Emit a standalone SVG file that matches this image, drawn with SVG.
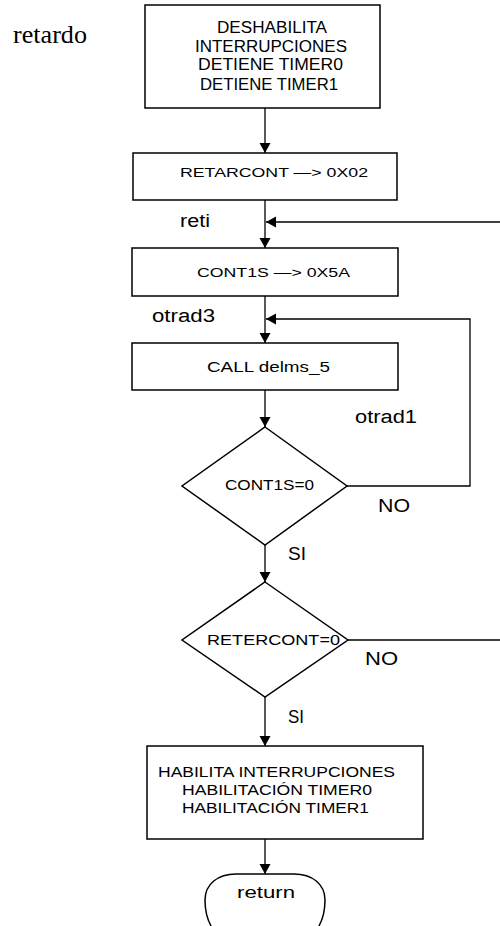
<svg xmlns="http://www.w3.org/2000/svg" width="500" height="926" viewBox="0 0 500 926">
  <style>
    .shape { fill: #ffffff; stroke: #000000; stroke-width: 1.5; }
    .wire { fill: none; stroke: #000000; stroke-width: 1.3; }
    .t { font-family: "Liberation Sans", Arial, sans-serif; fill: #000000; }
    .serif { font-family: "Liberation Serif", "Times New Roman", serif; fill: #000000; }
  </style>
  <defs>
    <marker id="arrow" viewBox="0 0 10 14" markerWidth="10" markerHeight="14" refX="10" refY="7" orient="auto" markerUnits="userSpaceOnUse">
      <path d="M0,1.5 L10,7 L0,12.5 Z" fill="#000000"/>
    </marker>
  </defs>

  <rect width="500" height="926" fill="#ffffff"/>

  <!-- routine name -->
  <text class="serif" x="13" y="43" font-size="25" textLength="74" lengthAdjust="spacingAndGlyphs">retardo</text>

  <!-- connectors -->
  <g id="connectors">
    <line class="wire" x1="265" y1="108" x2="265" y2="153" marker-end="url(#arrow)"/>
    <line class="wire" x1="265" y1="200" x2="265" y2="248" marker-end="url(#arrow)"/>
    <line class="wire" x1="500" y1="222" x2="266" y2="222" marker-end="url(#arrow)"/>
    <line class="wire" x1="265" y1="296" x2="265" y2="343" marker-end="url(#arrow)"/>
    <polyline class="wire" points="347,486 470,486 470,319 266,319" marker-end="url(#arrow)"/>
    <line class="wire" x1="265" y1="390" x2="265" y2="427" marker-end="url(#arrow)"/>
    <line class="wire" x1="265" y1="545" x2="265" y2="582" marker-end="url(#arrow)"/>
    <line class="wire" x1="348" y1="640" x2="500" y2="640"/>
    <line class="wire" x1="265" y1="697" x2="265" y2="746" marker-end="url(#arrow)"/>
    <line class="wire" x1="265" y1="839" x2="265" y2="874" marker-end="url(#arrow)"/>

    <text class="t" x="180" y="227" font-size="18" textLength="30" lengthAdjust="spacingAndGlyphs">reti</text>
    <text class="t" x="152" y="322" font-size="18" textLength="63" lengthAdjust="spacingAndGlyphs">otrad3</text>
    <text class="t" x="355" y="423" font-size="18" textLength="62" lengthAdjust="spacingAndGlyphs">otrad1</text>
    <text class="t" x="378" y="512" font-size="18" textLength="32" lengthAdjust="spacingAndGlyphs">NO</text>
    <text class="t" x="288" y="560" font-size="18" textLength="18" lengthAdjust="spacingAndGlyphs">SI</text>
    <text class="t" x="365" y="665" font-size="18" textLength="33" lengthAdjust="spacingAndGlyphs">NO</text>
    <text class="t" x="288" y="723" font-size="18" textLength="16" lengthAdjust="spacingAndGlyphs">SI</text>
  </g>

  <!-- disable interrupts and stop timers -->
  <g id="n1">
    <rect class="shape" x="145" y="5" width="235" height="103"/>
    <text class="t" x="217" y="33" font-size="16" textLength="110" lengthAdjust="spacingAndGlyphs">DESHABILITA</text>
    <text class="t" x="195" y="52" font-size="16" textLength="152" lengthAdjust="spacingAndGlyphs">INTERRUPCIONES</text>
    <text class="t" x="198" y="70" font-size="16" textLength="145" lengthAdjust="spacingAndGlyphs">DETIENE TIMER0</text>
    <text class="t" x="200" y="90" font-size="16" textLength="138" lengthAdjust="spacingAndGlyphs">DETIENE TIMER1</text>
  </g>

  <g id="n2">
    <rect class="shape" x="133" y="153" width="264" height="47"/>
    <text class="t" x="180" y="177" font-size="13" textLength="188" lengthAdjust="spacingAndGlyphs">RETARCONT —&gt;  0X02</text>
  </g>

  <g id="n3">
    <rect class="shape" x="132" y="248" width="266" height="48"/>
    <text class="t" x="197" y="277" font-size="13" textLength="153" lengthAdjust="spacingAndGlyphs">CONT1S —&gt;  0X5A</text>
  </g>

  <g id="n4">
    <rect class="shape" x="132" y="343" width="266" height="47"/>
    <text class="t" x="207" y="372" font-size="15" textLength="123" lengthAdjust="spacingAndGlyphs">CALL delms_5</text>
  </g>

  <g id="d1">
    <polygon class="shape" points="265,427 347,486 265,545 182,486"/>
    <text class="t" x="225" y="490" font-size="14" textLength="89" lengthAdjust="spacingAndGlyphs">CONT1S=0</text>
  </g>

  <g id="d2">
    <polygon class="shape" points="265,582 348,640 265,697 182,640"/>
    <text class="t" x="207" y="645" font-size="15.5" textLength="133" lengthAdjust="spacingAndGlyphs">RETERCONT=0</text>
  </g>

  <!-- re-enable interrupts and timers -->
  <g id="n5">
    <rect class="shape" x="147" y="746" width="276" height="93"/>
    <text class="t" x="158" y="777" font-size="15.5" textLength="237" lengthAdjust="spacingAndGlyphs">HABILITA INTERRUPCIONES</text>
    <text class="t" x="182" y="795" font-size="15.5" textLength="190" lengthAdjust="spacingAndGlyphs">HABILITACIÓN TIMER0</text>
    <text class="t" x="182" y="813" font-size="15.5" textLength="187" lengthAdjust="spacingAndGlyphs">HABILITACIÓN TIMER1</text>
  </g>

  <!-- terminator, oval with a flattened top -->
  <g id="end">
    <path class="shape" d="M236,874 L294,874 C312,874 325,884 325,900 C325,918 318,936 300,942 L230,942 C212,936 205,918 205,900 C205,884 218,874 236,874 Z"/>
    <text class="t" x="237" y="898" font-size="17" textLength="58" lengthAdjust="spacingAndGlyphs">return</text>
  </g>
</svg>
